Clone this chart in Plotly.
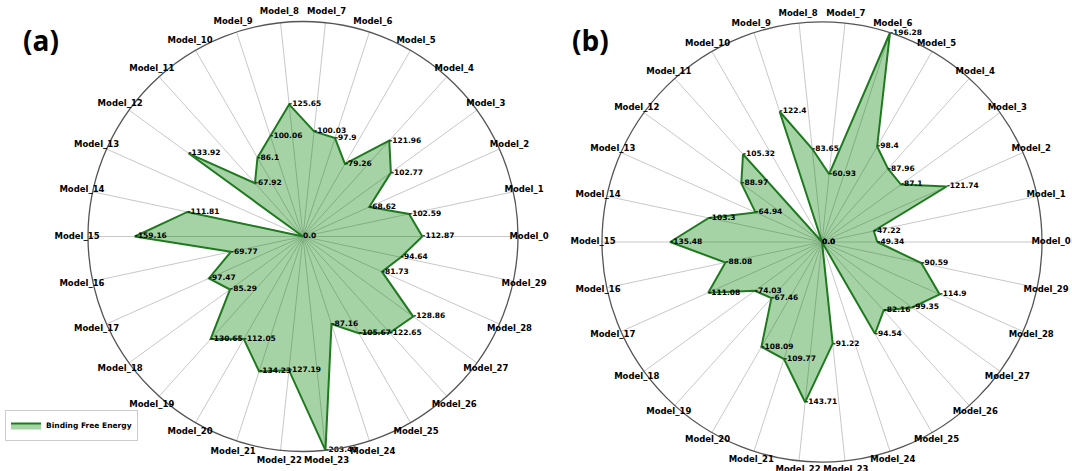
import plotly.graph_objects as go

models = [f"Model_{i}" for i in range(30)]

energy_a = [112.87, 102.59, 68.62, 102.77, 121.96, 79.26, 97.9, 100.03, 125.65, 100.06,
            86.1, 67.92, 133.92, 0.0, 111.81, 159.16, 69.77, 97.47, 85.29, 130.65,
            112.05, 134.23, 127.19, 203.41, 87.16, 105.67, 122.65, 128.86, 81.73, 94.64]

energy_b = [49.34, 47.22, 121.74, 87.1, 87.96, 98.4, 196.28, 60.93, 83.65, 122.4,
            0.0, 105.32, 88.97, 64.94, 103.3, 135.48, 88.08, 111.08, 74.03, 67.46,
            108.09, 109.77, 143.71, 91.22, 0.0, 94.54, 82.16, 99.35, 114.9, 90.59]

panel_labels = ["(a)", "(b)"]
series_name = "Binding Free Energy"


def fmt(v):
    return "0.0" if v == 0 else str(-v)


W, H = 1072, 471


def dom(cx, cy, rad):
    return dict(x=[(cx - rad) / W, (cx + rad) / W],
                y=[max(0, (H - cy - rad) / H), min(1, (H - cy + rad) / H)])


fig = go.Figure()
panels = [(energy_a, "polar", "polar3"), (energy_b, "polar2", "polar4")]
for k, (vals, pname, lname) in enumerate(panels):
    fig.add_trace(go.Scatterpolar(
        r=vals + vals[:1], theta=models + models[:1], subplot=pname,
        mode="lines", fill="toself", fillcolor="rgba(0,128,0,0.35)",
        line=dict(color="#1f7a1f", width=2),
        name=series_name, showlegend=(k == 0), hoverinfo="skip"))
    fig.add_trace(go.Scatterpolar(
        r=vals, theta=models, subplot=pname, mode="text",
        text=[fmt(v) for v in vals], textposition="middle right",
        textfont=dict(size=7.5, color="black", family="DejaVu Sans", weight="bold"),
        showlegend=False, hoverinfo="skip"))
    # category labels on an overlay ring just outside the outer circle
    fig.add_trace(go.Scatterpolar(
        r=[1] * len(models), theta=models, subplot=lname, mode="text",
        text=models, textposition="middle center", cliponaxis=False,
        textfont=dict(size=8.5, color="black", family="DejaVu Sans", weight="bold"),
        showlegend=False, hoverinfo="skip"))


def polar_cfg(vals, d):
    return dict(
        domain=d, bgcolor="white",
        radialaxis=dict(visible=False, range=[0, max(vals)], showgrid=False),
        angularaxis=dict(direction="counterclockwise", rotation=0,
                         showline=True, linecolor="#555555", linewidth=1.3,
                         showgrid=True, gridcolor="#c8c8c8", gridwidth=1,
                         ticks="", showticklabels=False))


def label_cfg(d):
    return dict(
        domain=d, bgcolor="rgba(0,0,0,0)",
        radialaxis=dict(visible=False, range=[0, 1], showgrid=False),
        angularaxis=dict(direction="counterclockwise", rotation=0,
                         showline=False, showgrid=False, ticks="", showticklabels=False))


fig.update_layout(
    width=W, height=H, paper_bgcolor="white", plot_bgcolor="white",
    margin=dict(l=0, r=0, t=0, b=0),
    polar=polar_cfg(energy_a, dom(303, 236.5, 215)),
    polar2=polar_cfg(energy_b, dom(822, 242, 220)),
    polar3=label_cfg(dom(303, 236.5, 226)),
    polar4=label_cfg(dom(822, 242, 229)),
    legend=dict(x=5 / W, y=1 - 410 / H, xanchor="left", yanchor="top",
                bordercolor="#cccccc", borderwidth=1, bgcolor="white",
                itemwidth=30, tracegroupgap=0,
                font=dict(size=7.5, family="DejaVu Sans", color="black", weight="bold")),
    annotations=[
        dict(text=f"<b>{panel_labels[0]}</b>", x=41 / W, y=1 - 40 / H, xref="paper", yref="paper",
             xanchor="center", yanchor="middle",
             showarrow=False, font=dict(size=28, family="Open Sans", color="black")),
        dict(text=f"<b>{panel_labels[1]}</b>", x=590 / W, y=1 - 40 / H, xref="paper", yref="paper",
             xanchor="center", yanchor="middle",
             showarrow=False, font=dict(size=28, family="Open Sans", color="black")),
    ],
)

fig.write_html("out.html", config={"displayModeBar": False},
               post_script="document.body.style.margin='0';")
